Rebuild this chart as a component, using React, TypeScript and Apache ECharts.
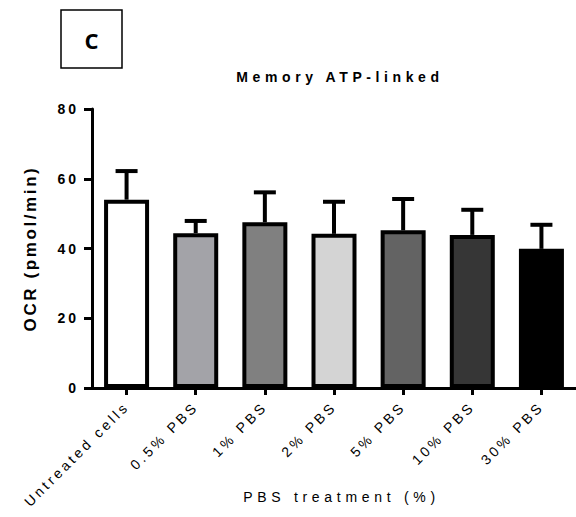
import React, { useEffect, useRef } from "react";
import * as echarts from "echarts";

const categories = ["Untreated cells", "0.5% PBS", "1% PBS", "2% PBS", "5% PBS", "10% PBS", "30% PBS"];
const means = [54.0, 44.4, 47.5, 44.2, 45.2, 43.9, 39.9];
const errUpper = [62.2, 47.9, 56.1, 53.4, 54.2, 51.1, 46.8];
const barColors = ["#ffffff", "#a3a3a8", "#808080", "#d4d4d4", "#636363", "#363636", "#000000"];
const yTicks = [0, 20, 40, 60, 80];
const chartTitle = "Memory ATP-linked";
const yName = "OCR (pmol/min)";
const xName = "PBS treatment (%)";

const FONT = "Arial, 'Liberation Sans', sans-serif";

function spaceTexts(root: HTMLElement) {
  const texts = root.querySelectorAll("text");
  texts.forEach((t) => {
    const s = (t.textContent || "").trim();
    let ls = 0;
    if (s === chartTitle) ls = 4.6;
    else if (s === xName) ls = 4.7;
    else if (s === yName) ls = 2.6;
    else if (categories.includes(s)) ls = 3.2;
    else if (yTicks.map(String).includes(s)) ls = 3;
    if (ls) t.setAttribute("letter-spacing", String(ls));
  });
}

export default function App() {
  const ref = useRef<HTMLDivElement>(null);
  useEffect(() => {
    if (!ref.current) return;
    const el = ref.current;
    const chart = echarts.init(el, null, { renderer: "svg" });
    chart.setOption({
      animation: false,
      backgroundColor: "#ffffff",
      title: {
        text: chartTitle,
        left: 335,
        top: 65,
        textAlign: "center",
        textStyle: { fontFamily: FONT, fontSize: 14, fontWeight: "bold", color: "#000" },
      },
      graphic: [
        {
          type: "rect",
          shape: { x: 61, y: 10, width: 61, height: 58 },
          style: { fill: "#fff", stroke: "#000", lineWidth: 1.5 },
        },
        {
          type: "text",
          x: 91.5,
          y: 40,
          style: {
            text: "C",
            fontFamily: "'Open Sans', sans-serif",
            fontSize: 22,
            fontWeight: "bold",
            fill: "#000",
            align: "center",
            verticalAlign: "middle",
          },
        },
      ],
      grid: { left: 92, right: 0, top: 109, bottom: 129, containLabel: false },
      xAxis: {
        type: "category",
        data: categories,
        name: xName,
        nameLocation: "middle",
        nameGap: 102,
        nameTextStyle: { fontFamily: FONT, fontSize: 14, color: "#000", padding: [0, 0, 0, 15] },
        axisLine: { lineStyle: { color: "#000", width: 3 } },
        axisTick: { show: true, alignWithLabel: true, length: 7, lineStyle: { color: "#000", width: 3 } },
        axisLabel: {
          rotate: 45,
          interval: 0,
          margin: 16,
          fontFamily: FONT,
          fontSize: 14,
          color: "#000",
        },
      },
      yAxis: {
        type: "value",
        min: 0,
        max: 80,
        interval: 20,
        name: yName,
        nameLocation: "middle",
        nameRotate: 90,
        nameGap: 53,
        nameTextStyle: { fontFamily: FONT, fontSize: 17, fontWeight: "bold", color: "#000" },
        axisLine: { show: true, lineStyle: { color: "#000", width: 3 } },
        axisTick: { show: true, length: 8, lineStyle: { color: "#000", width: 3 } },
        splitLine: { show: false },
        axisLabel: {
          margin: 13,
          fontFamily: FONT,
          fontSize: 14,
          fontWeight: "bold",
          color: "#000",
          formatter: (v: number) => (yTicks.includes(v) ? String(v) : ""),
        },
      },
      series: [
        {
          type: "bar",
          barWidth: 45,
          data: means.map((v, i) => ({
            value: v,
            itemStyle: { color: barColors[i], borderColor: "#000", borderWidth: 4 },
          })),
          z: 2,
        },
        {
          type: "custom",
          z: 1,
          data: means.map((m, i) => [i, m, errUpper[i]]),
          renderItem: (params: any, api: any) => {
            const i = api.value(0);
            const lo = api.coord([i, api.value(1)]);
            const hi = api.coord([i, api.value(2)]);
            const half = 11;
            return {
              type: "group",
              children: [
                {
                  type: "line",
                  shape: { x1: lo[0], y1: lo[1], x2: hi[0], y2: hi[1] },
                  style: { stroke: "#000", lineWidth: 4 },
                },
                {
                  type: "line",
                  shape: { x1: hi[0] - half, y1: hi[1], x2: hi[0] + half, y2: hi[1] },
                  style: { stroke: "#000", lineWidth: 4 },
                },
              ],
            };
          },
        },
      ],
    });
    spaceTexts(el);
    chart.on("finished", () => spaceTexts(el));
    const timer = setTimeout(() => spaceTexts(el), 50);
    return () => {
      clearTimeout(timer);
      chart.dispose();
    };
  }, []);
  return <div ref={ref} style={{ width: 576, height: 517, position: "absolute", left: 0, top: 0 }} />;
}
